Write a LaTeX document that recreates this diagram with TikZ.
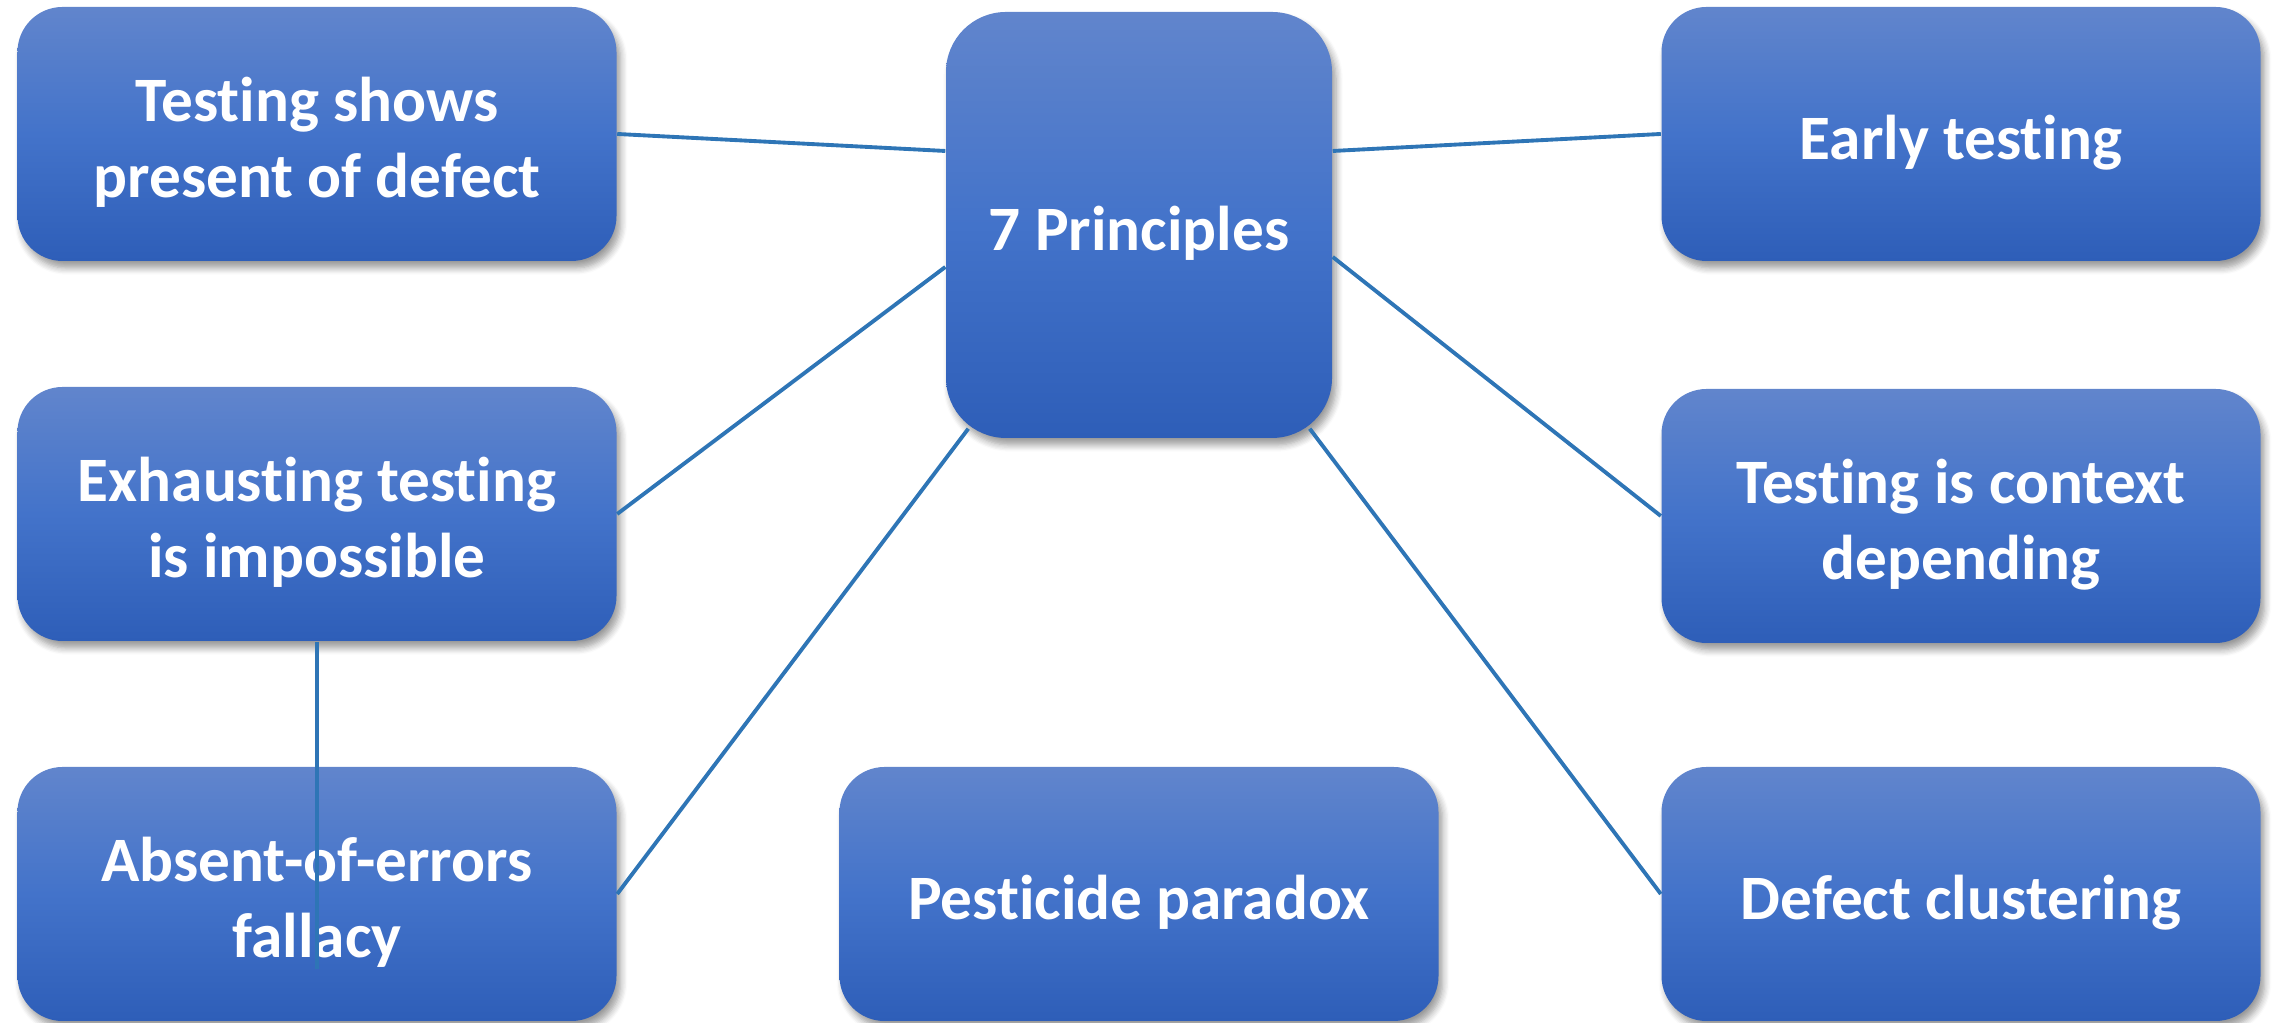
\documentclass[tikz,border=0pt]{standalone}
\usepackage{fontspec}
\setmainfont{Carlito}[Ligatures=NoCommon]
\usetikzlibrary{positioning, shadows.blur}
\definecolor{BoxTop}{HTML}{6185CC}
\definecolor{BoxMid}{HTML}{4373CA}
\definecolor{BoxBottom}{HTML}{2E5EB8}
\definecolor{LinkBlue}{HTML}{2E75B6}

\begin{document}
\begin{tikzpicture}[font=\bfseries\fontsize{18}{21.5}\selectfont,
    principle/.style={rounded corners=4.5mm, top color=BoxTop, bottom color=BoxBottom, middle color=BoxMid,
        minimum width=5.99cm, minimum height=2.54cm, inner sep=0pt,
        blur shadow={shadow xshift=0.4mm, shadow yshift=-0.7mm, shadow blur steps=6, shadow opacity=40}},
    caption/.style={text=white, align=center, yshift=-0.85mm},
    link/.style={draw=LinkBlue, line width=1.1pt}]
    \useasboundingbox (0,0) rectangle (22.75,10.23);

    \node[principle, label={[caption]center:Testing shows\\present of defect}] (shows) at (3.17,8.89) {};
    \node[principle, label={[caption]center:Exhausting testing\\is impossible}] (exhaust) at (3.17,5.09) {};
    \node[principle, label={[caption]center:Absent-of-errors\\fallacy}] (absent) at (3.17,1.29) {};
    \node[principle, minimum width=3.86cm, minimum height=4.26cm, rounded corners=6mm,
        label={[caption]center:7 Principles}] (core) at (11.39,7.98) {};
    \node[principle, label={[caption]center:Pesticide paradox}] (pesticide) at (11.39,1.29) {};
    \node[principle, label={[caption]center:Early testing}] (early) at (19.61,8.89) {};
    \node[principle, label={[caption]center:Testing is context\\depending}] (context) at (19.61,5.07) {};
    \node[principle, label={[caption]center:Defect clustering}] (cluster) at (19.61,1.29) {};

    \draw[link] (shows.east) -- ([yshift=7.4mm]core.west);
    \draw[link] ([yshift=7.4mm]core.east) -- (early.west);
    \draw[link] ([yshift=-4.2mm]core.west) -- (exhaust.east);
    \draw[link] ([yshift=-3.2mm]core.east) -- (context.west);
    \draw[link] ([xshift=2.3mm,yshift=1mm]core.south west) -- (absent.east);
    \draw[link] ([xshift=-2.3mm,yshift=1mm]core.south east) -- (cluster.west);
    \coordinate (drop) at ([yshift=-7.5mm]absent.center);
    \draw[link] (exhaust.south) -- (drop);
\end{tikzpicture}
\end{document}
